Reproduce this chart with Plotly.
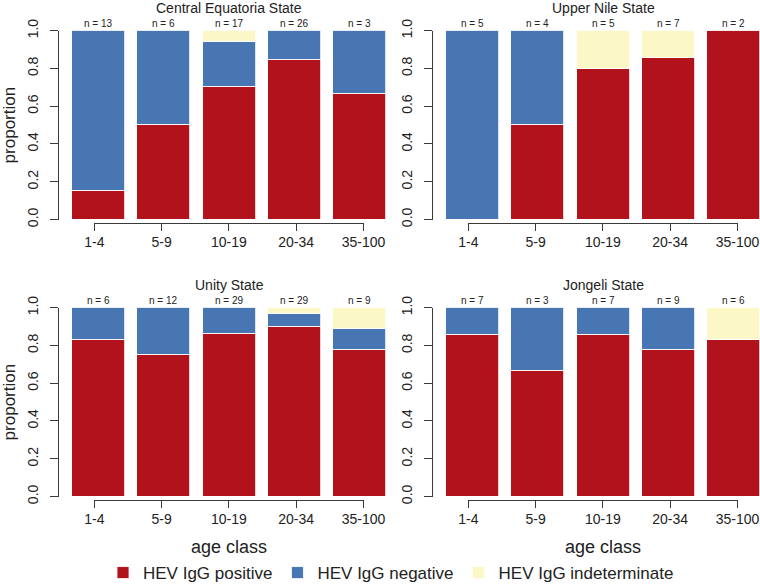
import plotly.graph_objects as go

# ---------------- data ----------------
age_classes = ["1-4", "5-9", "10-19", "20-34", "35-100"]
states = ["Central Equatoria State", "Upper Nile State", "Unity State", "Jongeli State"]

ce_pos = [0.154, 0.500, 0.706, 0.846, 0.667]
ce_neg = [0.846, 0.500, 0.235, 0.154, 0.333]
ce_ind = [0.000, 0.000, 0.059, 0.000, 0.000]
ce_n = [13, 6, 17, 26, 3]

un_pos = [0.000, 0.500, 0.800, 0.857, 1.000]
un_neg = [1.000, 0.500, 0.000, 0.000, 0.000]
un_ind = [0.000, 0.000, 0.200, 0.143, 0.000]
un_n = [5, 4, 5, 7, 2]

unity_pos = [0.833, 0.750, 0.862, 0.897, 0.778]
unity_neg = [0.167, 0.250, 0.138, 0.069, 0.111]
unity_ind = [0.000, 0.000, 0.000, 0.034, 0.111]
unity_n = [6, 12, 29, 29, 9]

jo_pos = [0.857, 0.667, 0.857, 0.778, 0.833]
jo_neg = [0.143, 0.333, 0.143, 0.222, 0.000]
jo_ind = [0.000, 0.000, 0.000, 0.000, 0.167]
jo_n = [7, 3, 7, 9, 6]

series_names = ["HEV IgG positive", "HEV IgG negative", "HEV IgG indeterminate"]
y_ticks = [0.0, 0.2, 0.4, 0.6, 0.8, 1.0]
y_ticklabels = ["0.0", "0.2", "0.4", "0.6", "0.8", "1.0"]

panels = [
    (ce_pos, ce_neg, ce_ind, ce_n),
    (un_pos, un_neg, un_ind, un_n),
    (unity_pos, unity_neg, unity_ind, unity_n),
    (jo_pos, jo_neg, jo_ind, jo_n),
]

# ---------------- styling / layout (pixels) ----------------
W, H = 760, 584
colors = ["#B1121B", "#4876B2", "#FBF7C6"]
FONT = "Liberation Sans, Arial, Helvetica, sans-serif"
AX = "#3a3a3a"

col_off = 374.0
row_off = 277.0
yaxis_x = 59.0          # y-axis line
bar0_c = 98.5           # first bar centre
bar_pitch = 65.3
bar_w = 53.0
tick0 = 94.3            # first x tick
tick_pitch = 67.3
y_top = 30.7            # value 1.0
y_bot = 219.5           # value 0.0
xline_y = 222.5         # x axis line


def px(x):
    return x / W


def py(y):
    return 1 - y / H


fig = go.Figure()
layout = {}
annotations = []

for p, (pos, neg, ind, nn) in enumerate(panels):
    r, c = divmod(p, 2)
    dx = c * col_off
    dy = r * row_off
    k = p + 1
    xa = "x" if k == 1 else f"x{k}"
    ya = "y" if k == 1 else f"y{k}"
    xt = f"x{k + 4}"

    left = yaxis_x + dx
    right = min(W, left + 340)
    c0 = bar0_c + dx
    rng = [(left - c0) / bar_pitch, (right - c0) / bar_pitch]

    for s, vals in enumerate([pos, neg, ind]):
        fig.add_trace(go.Bar(
            x=list(range(len(age_classes))), y=vals, name=series_names[s],
            marker=dict(color=colors[s], line=dict(color="white", width=0.8)),
            width=bar_w / bar_pitch, xaxis=xa, yaxis=ya,
            legendgroup=series_names[s], showlegend=(p == 0),
            hoverinfo="skip",
        ))
    # dummy trace for tick axis
    fig.add_trace(go.Scatter(x=[None], y=[None], xaxis=xt, yaxis=ya,
                             showlegend=False, hoverinfo="skip"))

    layout[("xaxis" if k == 1 else f"xaxis{k}")] = dict(
        domain=[px(left), px(right)], range=rng, anchor=ya,
        showline=False, showticklabels=False, ticks="", showgrid=False,
        zeroline=False, fixedrange=True, automargin=False,
    )
    layout[("yaxis" if k == 1 else f"yaxis{k}")] = dict(
        domain=[py(y_bot + dy), py(y_top + dy)], range=[0, 1], anchor=xa,
        showline=True, linecolor=AX, linewidth=1, ticks="outside", ticklen=8,
        tickcolor=AX, tickwidth=1, tickvals=y_ticks, ticktext=y_ticklabels,
        tickangle=-90, tickfont=dict(family=FONT, size=14, color="#222"),
        ticklabelstandoff=6, automargin=False,
        showgrid=False, zeroline=False, fixedrange=True,
        title=dict(text="proportion" if c == 0 else "",
                   font=dict(family=FONT, size=17, color="#222"), standoff=8),
    )
    t0 = tick0 + dx
    t4 = t0 + 4 * tick_pitch
    layout[f"xaxis{k + 4}"] = dict(
        domain=[px(t0), px(t4)], range=[0, 4], anchor="free",
        position=py(xline_y + dy), automargin=False,
        showline=True, linecolor=AX, linewidth=1, ticks="outside", ticklen=7,
        tickcolor=AX, tickvals=list(range(len(age_classes))), ticktext=age_classes,
        tickfont=dict(family=FONT, size=14, color="#222"),
        showgrid=False, zeroline=False, fixedrange=True,
    )

    # panel title
    annotations.append(dict(
        text=states[p], xref="paper", yref="paper",
        x=px((left + left + 340) / 2), y=py(8 + dy), xanchor="center", yanchor="middle",
        showarrow=False, font=dict(family=FONT, size=14, color="#222"),
    ))
    # n labels
    for i, n in enumerate(nn):
        annotations.append(dict(
            text=f"n = {n}", xref=xa, yref=ya, x=i, y=1.0, yshift=7,
            xanchor="center", yanchor="middle", showarrow=False,
            font=dict(family=FONT, size=10, color="#222"),
        ))
    if r == 1:
        annotations.append(dict(
            text="age class", xref="paper", yref="paper",
            x=px((left + left + 340) / 2), y=py(547), xanchor="center", yanchor="middle",
            showarrow=False, font=dict(family=FONT, size=18, color="#222"),
        ))

fig.update_layout(
    **layout,
    width=W, height=H,
    margin=dict(l=0, r=0, t=0, b=0, autoexpand=False),
    paper_bgcolor="white", plot_bgcolor="rgba(0,0,0,0)",
    barmode="stack", bargap=0,
    annotations=annotations,
    showlegend=True,
    legend=dict(orientation="h", x=px(103), y=py(573), xanchor="left", yanchor="middle",
                font=dict(family=FONT, size=17, color="#222"),
                itemwidth=30, traceorder="normal", bgcolor="rgba(0,0,0,0)"),
)

fig.write_html("out.html", config={"displayModeBar": False},
               post_script="document.body.style.margin='0';document.body.style.padding='0';")
